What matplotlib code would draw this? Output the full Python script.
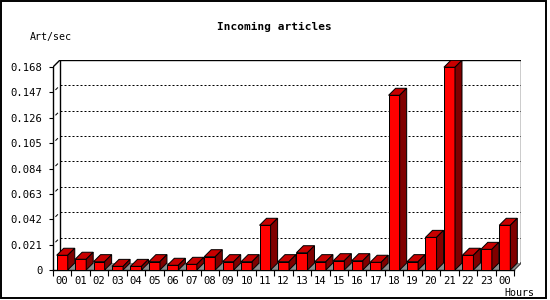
import numpy as np
import matplotlib
matplotlib.use('Agg')
import matplotlib.pyplot as plt
from matplotlib.patches import Polygon, Rectangle

# data
hours = ['00', '01', '02', '03', '04', '05', '06', '07', '08', '09', '10', '11',
         '12', '13', '14', '15', '16', '17', '18', '19', '20', '21', '22', '23', '00']
art_per_sec = [0.0122, 0.0089, 0.0069, 0.0030, 0.0030, 0.0069, 0.0039, 0.0047,
               0.0110, 0.0069, 0.0069, 0.0370, 0.0069, 0.0143, 0.0069, 0.0077,
               0.0077, 0.0064, 0.1446, 0.0069, 0.0270, 0.1678, 0.0122, 0.0171, 0.0370]
y_ticks = [0, 0.021, 0.042, 0.063, 0.084, 0.105, 0.126, 0.147, 0.168]
y_tick_labels = ['0', '0.021', '0.042', '0.063', '0.084', '0.105', '0.126', '0.147', '0.168']

W, H = 550, 300
FONT = 'DejaVu Sans Mono'

# 3d depth, in data units
n = len(hours)
ymax = y_ticks[-1]
dx = 0.38
dy = 0.0058
bar_w = 0.6

fig = plt.figure(figsize=(W / 100, H / 100), dpi=100)
fig.patch.set_facecolor('white')

# outer frame
fig.patches.append(Rectangle((0.5 / W, 1 - 298 / H), 545.5 / W, 297.5 / H,
                             transform=fig.transFigure, fill=False,
                             edgecolor='black', linewidth=1.4))

ax = fig.add_axes([53 / W, 30 / H, 468 / W, 210 / H])
ax.set_xlim(0, n + dx)
ax.set_ylim(0, ymax + dy)
ax.patch.set_visible(False)

for s in ['top', 'right']:
    ax.spines[s].set_visible(False)
ax.spines['left'].set_bounds(0, ymax)
ax.spines['bottom'].set_bounds(0, n)
for s in ['left', 'bottom']:
    ax.spines[s].set_linewidth(1.0)

ax.set_yticks(y_ticks)
ax.set_yticklabels(y_tick_labels, fontsize=7.6, family=FONT)
ax.tick_params(axis='y', direction='out', length=3, width=0.8, pad=4.5)

ax.set_xticks(np.arange(n + 1))
ax.set_xticklabels([])
ax.tick_params(axis='x', which='major', direction='out', length=4, width=0.8)
ax.set_xticks(np.arange(n) + 0.5, minor=True)
ax.set_xticklabels(hours, minor=True, fontsize=7.6, family=FONT)
ax.tick_params(axis='x', which='minor', length=0, pad=4)

# back wall
lw = 0.72
ax.plot([dx, dx, n + dx, n + dx], [dy, ymax + dy, ymax + dy, dy], color='black', lw=1.0)
ax.plot([0, dx], [ymax, ymax + dy], color='black', lw=1.0)
ax.plot([n, n + dx], [0, dy], color='black', lw=1.0)
for v in y_ticks[1:-1]:
    ax.plot([dx, n + dx], [v + dy, v + dy], color='black', lw=lw, linestyle=(0, (2, 2)))
    ax.plot([0.4 * dx, 0.65 * dx], [v + 0.4 * dy, v + 0.65 * dy], color='black', lw=lw)

# bars with shadow, top and side
for i, v in enumerate(art_per_sec):
    xl = i + (1 - bar_w) / 2
    xr = xl + bar_w
    gap = min(1 - bar_w, n - xr)
    ax.add_patch(Polygon([(xr, 0), (xr + dx, dy), (xr + gap + dx, dy), (xr + gap, 0)],
                         closed=True, facecolor='#8c8c8c', edgecolor='none', zorder=2))
    ax.add_patch(Rectangle((xl, 0), bar_w, v, facecolor='#ff0000',
                           edgecolor='black', lw=lw, zorder=3))
    ax.add_patch(Polygon([(xl, v), (xl + dx, v + dy), (xr + dx, v + dy), (xr, v)],
                         closed=True, facecolor='#c80000', edgecolor='black', lw=lw, zorder=3))
    ax.add_patch(Polygon([(xr, 0), (xr + dx, dy), (xr + dx, v + dy), (xr, v)],
                         closed=True, facecolor='#800000', edgecolor='black', lw=lw, zorder=3))

fig.text(274 / W, 1 - 27 / H, 'Incoming articles', ha='center', va='center',
         fontsize=8, fontweight='bold', family=FONT)
fig.text(30 / W, 1 - 37 / H, 'Art/sec', ha='left', va='center', fontsize=7.2, family=FONT)
fig.text(504 / W, 1 - 293 / H, 'Hours', ha='left', va='center', fontsize=7.2, family=FONT)

fig.savefig('out.png', dpi=100)
plt.close(fig)
